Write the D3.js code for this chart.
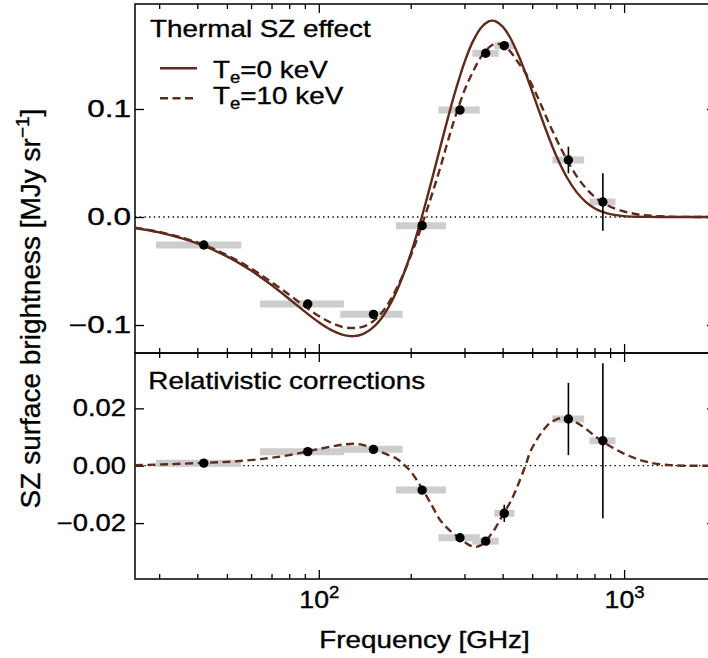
<!DOCTYPE html>
<html><head><meta charset="utf-8">
<script src="https://cdn.jsdelivr.net/npm/d3@7"></script>
<style>
body{margin:0;background:#fff}
svg{display:block}
text{font-family:"Liberation Sans",Arial,Helvetica,sans-serif;fill:#000;stroke:#000;stroke-width:0.35px}
</style>
</head><body>
<svg id="c" width="708" height="658"></svg>
<script>
// ---------------- data ----------------
const modelFreq = [25,30,40,50,60,70,80,90,100,110,120,130,140,150,160,170,180,190,200,210,217,230,240,250,260,270,280,300,320,340,360,370,380,400,420,450,480,520,560,600,650,700,750,800,850,900,1000,1100,1200,1400,1600,2000];
const tszTe0 = [-0.0101,-0.0143,-0.0245,-0.0365,-0.0496,-0.0630,-0.0759,-0.0876,-0.0974,-0.1047,-0.1091,-0.1103,-0.1082,-0.1027,-0.0941,-0.0825,-0.0684,-0.0521,-0.0341,-0.0148,-0.0009,0.0253,0.0453,0.0647,0.0832,0.1005,0.1164,0.1432,0.1628,0.1753,0.1811,0.1818,0.1811,0.1763,0.1678,0.1503,0.1301,0.1025,0.0775,0.0565,0.0366,0.0228,0.0138,0.0081,0.0047,0.0026,0.0008,0.0002,0.0001,0,0,0];
const tszTe10 = [-0.0099,-0.0138,-0.0236,-0.0352,-0.0476,-0.0602,-0.0720,-0.0828,-0.0916,-0.0980,-0.1019,-0.1028,-0.1014,-0.0969,-0.0894,-0.0789,-0.0658,-0.0517,-0.0361,-0.0202,-0.0086,0.0130,0.0296,0.0457,0.0627,0.0785,0.0929,0.1172,0.1347,0.1483,0.1567,0.1593,0.1604,0.1592,0.1545,0.1430,0.1315,0.1115,0.0906,0.0721,0.0530,0.0376,0.0266,0.0187,0.0133,0.0096,0.0051,0.0026,0.0014,0.0003,0.0001,0];

const relFreq = [25,32,42,53,68,80,91,103,113,123,133,142,151,165,180,190,200,218,235,250,270,291,310,325,340,351,375,403,425,446,475,493,512,532,560,588,620,659,700,757,800,850,910,973,1040,1104,1180,1251,1419,1600,2000];
const relTe10 = [0.0002,0.0005,0.0010,0.0015,0.0026,0.0037,0.0049,0.0061,0.0069,0.0075,0.0076,0.0070,0.0058,0.0042,0.0024,0.0004,-0.0020,-0.0080,-0.0140,-0.0190,-0.0228,-0.0254,-0.0276,-0.0283,-0.0277,-0.0264,-0.0225,-0.0166,-0.0125,-0.0075,0.0000,0.0049,0.0082,0.0110,0.0140,0.0157,0.0166,0.0165,0.0150,0.0125,0.0104,0.0085,0.0065,0.0048,0.0034,0.0023,0.0014,0.0008,0.0002,0.0000,0.0000];

const bandFreq = [42,92,151,218,290,352,405,657,852];
const bandLow  = [29.3,64.2,117.5,179,246.4,318.4,376,582.5,770];
const bandHigh = [55.7,120.9,188.1,261,336.4,388.3,437,740,937];
const tszObs = [-0.0259,-0.0806,-0.0901,-0.0080,0.0990,0.1516,0.1586,0.0528,0.0139];
const tszErr = [0.001,0.001,0.001,0.001,0.001,0.001,0.002,0.0123,0.0267];
const relObs = [0.0009,0.0049,0.0057,-0.0085,-0.0251,-0.0263,-0.0166,0.0163,0.0087];
const relErr = [0.0005,0.0005,0.0005,0.0005,0.0005,0.0005,0.003,0.0126,0.027];

const topTicks = [-0.1,0,0.1];
const topTickLabels = ["\u22120.1","0.0","0.1"];
const botTicks = [-0.02,0,0.02];
const botTickLabels = ["\u22120.02","0.00","0.02"];
const xMajor = [100,1000];
const xMajorBase = ["10","10"];
const xMajorExp = ["2","3"];
const xMinor = [30,40,50,60,70,80,90,200,300,400,500,600,700,800,900];

// ---------------- layout ----------------
const L=135,R=716,T1=4,B1=353,T2=353,B2=579;
const SX=1.16, FS=24, TFS=23;
const brown="#5e2b1d", band="#cdcdcd";

const svg=d3.select("#c");
const x=d3.scaleLog().domain([25,2000]).range([L,R]);
const yT=d3.scaleLinear().domain([-0.1259,0.1972]).range([B1,T1]);
const yB=d3.scaleLinear().domain([-0.0395,0.0393]).range([B2,T2]);

const defs=svg.append("defs");
defs.append("clipPath").attr("id","cpT").append("rect").attr("x",L).attr("y",T1).attr("width",R-L).attr("height",B1-T1);
defs.append("clipPath").attr("id","cpB").append("rect").attr("x",L).attr("y",T2).attr("width",R-L).attr("height",B2-T2);

function styleAxis(g){
  g.select(".domain").remove();
  g.selectAll(".tick line").attr("stroke","#000").attr("stroke-width",1.3);
  g.attr("font-size",TFS).attr("font-family",'"Liberation Sans",Arial,sans-serif');
}

function panel(y,top,bottom,ticks,labels,lpad,lsx){
  const g=svg.append("g");
  [[d3.axisTop,top],[d3.axisBottom,bottom]].forEach(([ax,pos])=>{
    g.append("g").attr("transform",`translate(0,${pos})`)
      .call(ax(x).tickValues(xMinor).tickSize(-5).tickFormat(""))
      .call(styleAxis);
    g.append("g").attr("transform",`translate(0,${pos})`)
      .call(ax(x).tickValues(xMajor).tickSize(-9).tickFormat(""))
      .call(styleAxis);
  });
  const gl=g.append("g").attr("transform",`translate(${L},0)`)
    .call(d3.axisLeft(y).tickValues(ticks).tickSize(-9).tickPadding(lpad).tickFormat((d,i)=>labels[i]))
    .call(styleAxis);
  gl.selectAll(".tick text").attr("x",0).attr("transform",`translate(${-lpad},0) scale(${lsx},1)`).attr("fill","#000");
  g.append("g").attr("transform",`translate(${R},0)`)
    .call(d3.axisRight(y).tickValues(ticks).tickSize(-9).tickFormat(""))
    .call(styleAxis);
  g.append("line").attr("x1",L).attr("x2",R).attr("y1",y(0)).attr("y2",y(0))
    .attr("stroke","#000").attr("stroke-width",1.3).attr("stroke-dasharray","1.4,3.3");
  g.append("rect").attr("x",L).attr("y",top).attr("width",R-L).attr("height",bottom-top)
    .attr("fill","none").attr("stroke","#000").attr("stroke-width",1.5);
}

panel(yT,T1,B1,topTicks,topTickLabels,4,1.37);
panel(yB,T2,B2,botTicks,botTickLabels,9,1.19);

// x tick labels bottom
const gx=svg.append("g").attr("transform",`translate(0,${B2})`)
  .call(d3.axisBottom(x).tickValues(xMajor).tickSize(0).tickFormat(""))
  .call(styleAxis);
gx.selectAll(".tick text").each(function(d,i){
  const t=d3.select(this).attr("y",0).attr("dy",null).attr("text-anchor","middle")
    .attr("transform",`translate(0,${608.3-B2}) scale(${SX},1)`).attr("fill","#000");
  t.append("tspan").text(xMajorBase[i]);
  t.append("tspan").attr("font-size",16).attr("dy",-10).text(xMajorExp[i]);
});

// ---------------- marks ----------------
function marks(y,clipId,model,obs,err){
  const g=svg.append("g").attr("clip-path",`url(#${clipId})`);
  g.selectAll("line.band").data(bandFreq).join("line").attr("class","band")
    .attr("x1",(d,i)=>x(bandLow[i])).attr("x2",(d,i)=>x(bandHigh[i]))
    .attr("y1",(d,i)=>y(obs[i])).attr("y2",(d,i)=>y(obs[i]))
    .attr("stroke",band).attr("stroke-width",7);
  model.forEach(m=>{
    const line=d3.line().x(d=>x(d[0])).y(d=>y(d[1])).curve(d3.curveCatmullRom.alpha(0.5));
    g.append("path").attr("d",line(m.f.map((f,i)=>[f,m.v[i]])))
      .attr("fill","none").attr("stroke",brown).attr("stroke-width",2.4)
      .attr("stroke-dasharray",m.dash||null);
  });
  g.selectAll("line.err").data(bandFreq).join("line").attr("class","err")
    .attr("x1",d=>x(d)).attr("x2",d=>x(d))
    .attr("y1",(d,i)=>y(obs[i]-err[i])).attr("y2",(d,i)=>y(obs[i]+err[i]))
    .attr("stroke","#000").attr("stroke-width",1.6);
  g.selectAll("circle").data(bandFreq).join("circle")
    .attr("cx",d=>x(d)).attr("cy",(d,i)=>y(obs[i])).attr("r",4.7).attr("fill","#000");
}
marks(yT,"cpT",[{f:modelFreq,v:tszTe0},{f:modelFreq,v:tszTe10,dash:"8,4.5"}],tszObs,tszErr);
marks(yB,"cpB",[{f:relFreq,v:relTe10,dash:"8,4.5"}],relObs,relErr);

// ---------------- texts ----------------
function htext(xp,yp,str,anchor){
  return svg.append("text").attr("transform",`translate(${xp},${yp}) scale(${SX},1)`)
    .attr("font-size",FS).attr("text-anchor",anchor||"start").text(str);
}
htext(150,37.3,"Thermal SZ effect");
htext(148.3,389.3,"Relativistic corrections");
htext(424.5,648.3,"Frequency [GHz]","middle");

// legend
const leg=[{y:68.3,base:78.3,val:"=0 keV",dash:null},{y:98.3,base:103.6,val:"=10 keV",dash:"8,4.5"}];
leg.forEach(l=>{
  svg.append("line").attr("x1",160).attr("x2",197).attr("y1",l.y).attr("y2",l.y)
    .attr("stroke",brown).attr("stroke-width",2.4).attr("stroke-dasharray",l.dash);
  const t=svg.append("text").attr("transform",`translate(213,${l.base}) scale(${SX},1)`).attr("font-size",FS);
  t.append("tspan").text("T");
  t.append("tspan").attr("font-size",16).attr("dy",5).text("e");
  t.append("tspan").attr("dy",-5).text(l.val);
});

// y label
const yl=svg.append("text").attr("transform","translate(40,308.5) rotate(-90)")
  .attr("font-size",28).attr("text-anchor","middle");
yl.append("tspan").text("SZ surface brightness [MJy sr");
yl.append("tspan").attr("font-size",19).attr("dy",-11).text("\u22121");
yl.append("tspan").attr("dy",11).text("]");
</script>
</body></html>
